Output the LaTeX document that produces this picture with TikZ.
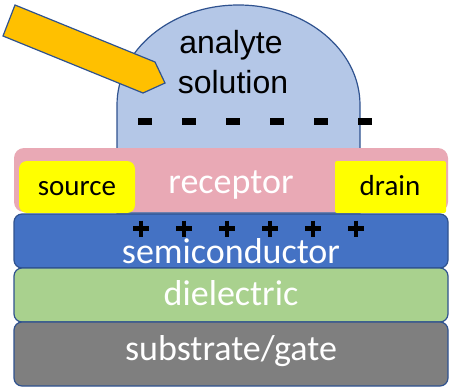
\documentclass[tikz,border=0pt]{standalone}
\usepackage{fontspec}
\setmainfont{Carlito}
\newfontfamily\arialfont{Liberation Sans}
\usetikzlibrary{positioning}
\definecolor{edgeblue}{HTML}{2F528F}
\definecolor{dropblue}{HTML}{B4C7E7}
\definecolor{arroworange}{HTML}{FFC000}
\definecolor{receptorpink}{HTML}{E9A9B5}
\definecolor{contactyellow}{HTML}{FFFF00}
\definecolor{semiblue}{HTML}{4472C4}
\definecolor{dielgreen}{HTML}{A9D18E}
\definecolor{gategray}{HTML}{7F7F7F}
\tikzstyle{layer}=[draw=edgeblue, line width=1.2pt, rounded corners=8pt, minimum width=434pt, inner sep=0pt]
\tikzstyle{contact}=[fill=contactyellow, inner sep=0pt, minimum height=52pt]
\tikzstyle{lbl}=[text=white, font=\fontsize{36}{40}\selectfont, anchor=base]
\tikzstyle{clbl}=[text=black, font=\fontsize{29}{30}\selectfont, anchor=base]
\tikzstyle{slbl}=[text=black, font=\arialfont\fontsize{32}{40}\selectfont, anchor=base]

\begin{document}
\begin{tikzpicture}[x=1pt,y=-1pt]
    \useasboundingbox (0,0) rectangle (450,388);

    % the drop of analyte solution
    \draw[draw=edgeblue, fill=dropblue, line width=1.2pt]
        (117,213) -- (117,105)
        arc[start angle=180, end angle=0, x radius=121.5pt, y radius=100pt]
        -- (360,213) -- cycle;
    \foreach \x in {145,189,...,365}
        \fill (\x-7,117.5) rectangle (\x+7,124.5);

    % incoming arrow
    \draw[draw=edgeblue, fill=arroworange, line width=1.2pt]
        (15,5) -- (155,62) -- (165,83) -- (143,93) -- (3,36) -- cycle;

    % device stack
    \node[fill=receptorpink, rounded corners=10pt, minimum width=434pt, minimum height=64pt, inner sep=0pt] (rec) at (231,180) {};
    \node[contact, rounded corners=8pt, minimum width=116pt] (src) at (77,187) {};
    \node[contact, rounded corners=2pt, minimum width=111pt] (drn) at (390.5,187) {};
    \node[layer, fill=semiblue, minimum height=54pt] (semi) at (231,241) {};
    \node[layer, fill=dielgreen, minimum height=54pt] (diel) at (231,295) {};
    \node[layer, fill=gategray, minimum height=64pt] (gate) at (231,354) {};

    \foreach \x in {141,184,227,270,313,356}
        \draw[line width=4.5pt] (\x-8,228.5) -- (\x+8,228.5) (\x,220.5) -- (\x,236.5);

    % labels
    \node[slbl] (tana) at (231,53) {analyte};
    \node[slbl] (tsol) at (233,93) {solution};
    \node[lbl] (trec) at (231,193) {receptor};
    \node[clbl] (tsrc) at (77,195) {source};
    \node[clbl] (tdrn) at (390,195) {drain};
    \node[lbl] (tsemi) at (231,263) {semiconductor};
    \node[lbl] (tdiel) at (231,305) {dielectric};
    \node[lbl] (tgate) at (231,360) {substrate/gate};
\end{tikzpicture}
\end{document}
